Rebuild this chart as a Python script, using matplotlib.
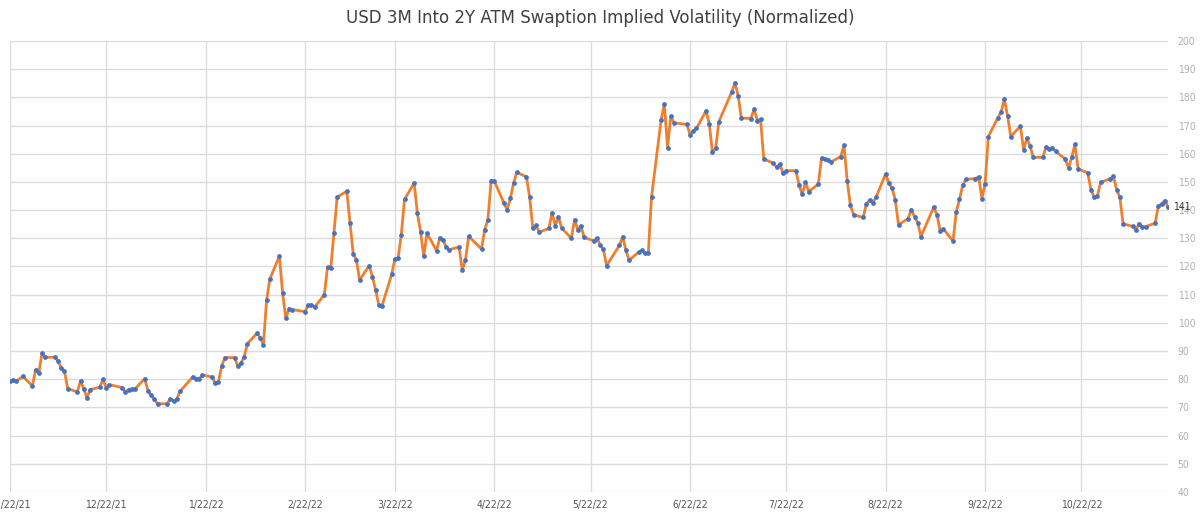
import matplotlib
matplotlib.use("Agg")
import matplotlib.pyplot as plt
import pandas as pd

# business days from 11/22/21 to 11/18/22, minus the US market holidays skipped in the chart
start_date = "2021-11-22"
end_date = "2022-11-18"
holidays = ["2021-11-25", "2021-12-24", "2022-01-17", "2022-02-21", "2022-04-15",
            "2022-05-30", "2022-06-20", "2022-07-04", "2022-09-05"]

# normalized implied vol, one row per week
vol = [
    79.4, 79.8, 79.3, 81.0,
    77.6, 83.4, 82.3, 89.3, 87.8,
    87.8, 86.4, 84.0, 82.8, 76.7,
    75.5, 79.4, 76.7, 73.4, 76.3,
    77.2, 80.0, 77.0, 78.1,
    77.0, 75.5, 76.3, 76.5, 76.6,
    80.2, 76.0, 74.3, 72.9, 71.3,
    71.3, 73.1, 72.4, 72.9, 75.7,
    80.8, 80.2, 80.2, 81.5,
    80.8, 78.5, 79.1, 84.7, 87.7,
    87.7, 84.7, 85.7, 87.9, 92.6,
    96.3, 94.8, 92.2, 108.0, 115.5,
    123.7, 110.5, 101.6, 105.0, 104.7,
    104.0, 106.3, 106.3, 105.6,
    110.0, 119.7, 119.3, 131.9, 144.6,
    146.7, 135.6, 124.6, 122.3, 115.2,
    120.3, 116.4, 111.6, 106.3, 106.1,
    117.2, 122.7, 123.0, 131.3, 143.8,
    149.6, 139.0, 132.3, 123.6, 131.8,
    125.6, 130.2, 129.4, 126.9, 126.0,
    126.9, 118.7, 122.2, 130.7,
    126.2, 133.1, 136.6, 150.5, 150.3,
    142.5, 140.1, 144.2, 149.6, 153.4,
    151.8, 144.6, 133.6, 134.6, 132.2,
    133.5, 139.0, 134.4, 137.7, 133.6,
    130.0, 136.6, 133.1, 134.4, 130.3,
    129.1, 130.0, 127.6, 126.1, 120.3,
    127.5, 130.5, 125.9, 122.2,
    125.1, 125.7, 124.8, 124.8, 144.6,
    172.1, 177.6, 162.2, 173.3, 171.0,
    170.4, 166.8, 168.1, 169.0,
    175.2, 170.6, 160.5, 161.9, 171.4,
    181.9, 185.2, 180.6, 172.7,
    172.5, 175.9, 171.7, 172.2, 158.2,
    156.6, 155.2, 156.4, 153.1, 154.0,
    154.0, 148.9, 145.6, 150.0, 146.6,
    149.2, 158.5, 158.1, 157.8, 157.1,
    159.0, 163.0, 150.5, 141.7, 138.3,
    137.4, 142.3, 143.5, 142.6, 144.6,
    152.9, 149.5, 147.9, 143.5, 134.8,
    137.0, 140.2, 137.6, 135.5, 130.6,
    141.1, 138.3, 132.5, 133.3,
    129.0, 139.4, 143.8, 148.8, 150.9,
    151.2, 151.8, 144.1, 149.4, 166.1,
    172.8, 174.9, 179.4, 173.4, 166.1,
    169.8, 161.4, 165.5, 162.8, 158.7,
    158.7, 162.4, 161.8, 162.1, 160.8,
    158.1, 154.9, 158.8, 163.3, 154.6,
    153.2, 147.2, 144.6, 145.0, 149.9,
    151.1, 152.0, 147.3, 144.6, 135.2,
    134.2, 133.0, 135.2, 134.1, 134.1,
    135.4, 141.4, 142.2, 143.4, 141.0,
]

tick_dates = ["2021-11-22", "2021-12-22", "2022-01-22", "2022-02-22", "2022-03-22",
              "2022-04-22", "2022-05-22", "2022-06-22", "2022-07-22", "2022-08-22",
              "2022-09-22", "2022-10-22"]
y_ticks = list(range(40, 201, 10))

dates = pd.bdate_range(start_date, end_date, freq="C", holidays=holidays)
assert len(dates) == len(vol), (len(dates), len(vol))

plt.rcParams["font.family"] = ["DejaVu Sans"]
plt.rcParams["font.stretch"] = "condensed"

fig = plt.figure(figsize=(12, 5.17), dpi=100)
ax = fig.add_axes([0.0083, 0.0484, 0.9650, 0.8723])

ax.plot(dates, vol, color="#f07f2d", lw=2, zorder=2)
ax.plot(dates, vol, "o", color="#4472c4", ms=2.4, zorder=3)

ax.set_ylim(40, 200)
ax.set_xlim(dates[0], dates[-1])
ax.set_yticks(y_ticks)
ticks = pd.to_datetime(tick_dates)
ax.set_xticks(ticks)
ax.set_xticklabels([f"{d.month}/{d.day}/{d.strftime('%y')}" for d in ticks])

ax.yaxis.tick_right()
ax.tick_params(axis="y", length=0, pad=7, labelsize=7.5, labelcolor="#b0b0b0")
ax.tick_params(axis="x", length=0, pad=6, labelsize=7.5, labelcolor="#555555")
ax.grid(True, color="#dcdcdc", lw=1)
ax.set_axisbelow(True)
for s in ax.spines.values():
    s.set_visible(False)

# last value label
ax.annotate(f"{vol[-1]:.0f}", (dates[-1], vol[-1]), xytext=(4, 0),
            textcoords="offset points", va="center", fontsize=7.5, color="#333333")

fig.text(0.5, 0.965, "USD 3M Into 2Y ATM Swaption Implied Volatility (Normalized)",
         ha="center", va="center", fontsize=13.3, color="#404040")

fig.savefig("out.png")
